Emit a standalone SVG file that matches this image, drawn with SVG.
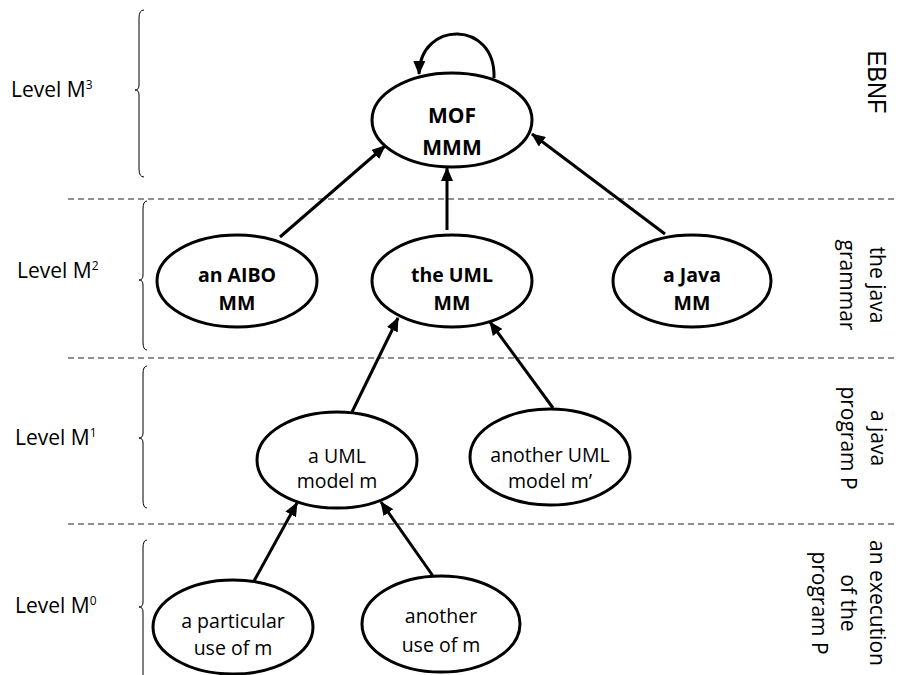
<svg xmlns="http://www.w3.org/2000/svg" width="898" height="675" viewBox="0 0 898 675">
<style>
text{font-family:"Comic Sans MS","Open Sans","DejaVu Sans",sans-serif;fill:#000}
.lvl{font-size:21px}
.sup{font-size:12px}
.nb{font-size:19.5px;font-weight:bold;text-anchor:middle}
.nr{font-size:19.5px;text-anchor:middle}
.side{font-size:21px;text-anchor:middle}
.node ellipse{fill:#fff;stroke:#000;stroke-width:3}
.dash{stroke:#222;stroke-width:1.2;stroke-dasharray:6 4;fill:none}
.brace{stroke:#000;stroke-width:1;fill:none}
.conn path,.conn line{stroke:#000;stroke-width:3;fill:none;marker-end:url(#ah)}
</style>
<defs>
<marker id="ah" markerUnits="userSpaceOnUse" markerWidth="14" markerHeight="12" refX="13" refY="6" orient="auto">
<path d="M0,0 L14,6 L0,12 z" fill="#000"/>
</marker>
</defs>
<rect width="898" height="675" fill="#fff"/>

<g id="separators">
<line class="dash" x1="68" y1="199" x2="898" y2="199"/>
<line class="dash" x1="68" y1="358" x2="898" y2="358"/>
<line class="dash" x1="68" y1="524" x2="898" y2="524"/>
</g>

<g id="braces">
<path class="brace" d="M144,10 Q139,10 139,18 L139,85 Q139,90 135,90 Q139,90 139,95 L139,169 Q139,177 144,177"/>
<path class="brace" d="M147,201 Q143,201 143,209 L143,275 Q143,280 139,280 Q143,280 143,285 L143,342 Q143,350 147,350"/>
<path class="brace" d="M147,366 Q143,366 143,374 L143,433 Q143,438 139,438 Q143,438 143,443 L143,500 Q143,508 147,508"/>
<path class="brace" d="M147,540 Q143,540 143,548 L143,602 Q143,607 139,607 Q143,607 143,612 L143,680"/>
</g>

<g id="level-labels">
<text class="lvl" x="11" y="97">Level M<tspan class="sup" dy="-8">3</tspan></text>
<text class="lvl" x="17" y="278">Level M<tspan class="sup" dy="-8">2</tspan></text>
<text class="lvl" x="15" y="445">Level M<tspan class="sup" dy="-8">1</tspan></text>
<text class="lvl" x="15" y="613">Level M<tspan class="sup" dy="-8">0</tspan></text>
</g>

<g id="side-labels">
<text transform="translate(868,82) rotate(90)" x="0" y="0" text-anchor="middle" style="font-family:'Liberation Sans',Arial,sans-serif;font-size:25px" textLength="63" lengthAdjust="spacingAndGlyphs">EBNF</text>
<text class="side" transform="translate(870,285) rotate(90)"><tspan x="0" y="0">the java</tspan><tspan x="0" y="30">grammar</tspan></text>
<text class="side" transform="translate(871,438) rotate(90)"><tspan x="0" y="0">a java</tspan><tspan x="0" y="30">program P</tspan></text>
<text class="side" transform="translate(870,603) rotate(90)"><tspan x="0" y="0">an execution</tspan><tspan x="0" y="29">of the</tspan><tspan x="0" y="58">program P</tspan></text>
</g>

<g id="connectors" class="conn">
<path d="M494,78 C496,20 420,20 419,74"/>
<line x1="280" y1="237" x2="385" y2="146"/>
<line x1="447" y1="230" x2="447" y2="168"/>
<line x1="665" y1="234" x2="532" y2="134"/>
<line x1="352" y1="412" x2="398" y2="318"/>
<line x1="553" y1="408" x2="490" y2="322"/>
<line x1="254" y1="581" x2="297" y2="503"/>
<line x1="433" y1="576" x2="381" y2="502"/>
</g>

<g id="mof" class="node">
<ellipse cx="452" cy="120" rx="80" ry="47"/>
<text class="nb" x="452" y="123" style="font-size:21px">MOF</text>
<text class="nb" x="452" y="155" style="font-size:21px">MMM</text>
</g>

<g id="aibo" class="node">
<ellipse cx="237" cy="281" rx="80" ry="46"/>
<text class="nb" x="237" y="282">an AIBO</text>
<text class="nb" x="237" y="310">MM</text>
</g>

<g id="uml-mm" class="node">
<ellipse cx="452" cy="281" rx="80" ry="46"/>
<text class="nb" x="452" y="282">the UML</text>
<text class="nb" x="452" y="310">MM</text>
</g>

<g id="java-mm" class="node">
<ellipse cx="692" cy="281" rx="79" ry="46"/>
<text class="nb" x="692" y="282">a Java</text>
<text class="nb" x="692" y="310">MM</text>
</g>

<g id="uml-model-m" class="node">
<ellipse cx="337" cy="460" rx="80" ry="48"/>
<text class="nr" x="337" y="463">a UML</text>
<text class="nr" x="337" y="488">model m</text>
</g>

<g id="uml-model-m2" class="node">
<ellipse cx="550" cy="457" rx="80" ry="48"/>
<text class="nr" x="550" y="462">another UML</text>
<text class="nr" x="550" y="488">model m’</text>
</g>

<g id="particular-use" class="node">
<ellipse cx="233" cy="627" rx="80" ry="47"/>
<text class="nr" x="233" y="628">a particular</text>
<text class="nr" x="233" y="655">use of m</text>
</g>

<g id="another-use" class="node">
<ellipse cx="441" cy="624" rx="79" ry="48"/>
<text class="nr" x="441" y="623">another</text>
<text class="nr" x="441" y="652">use of m</text>
</g>
</svg>
